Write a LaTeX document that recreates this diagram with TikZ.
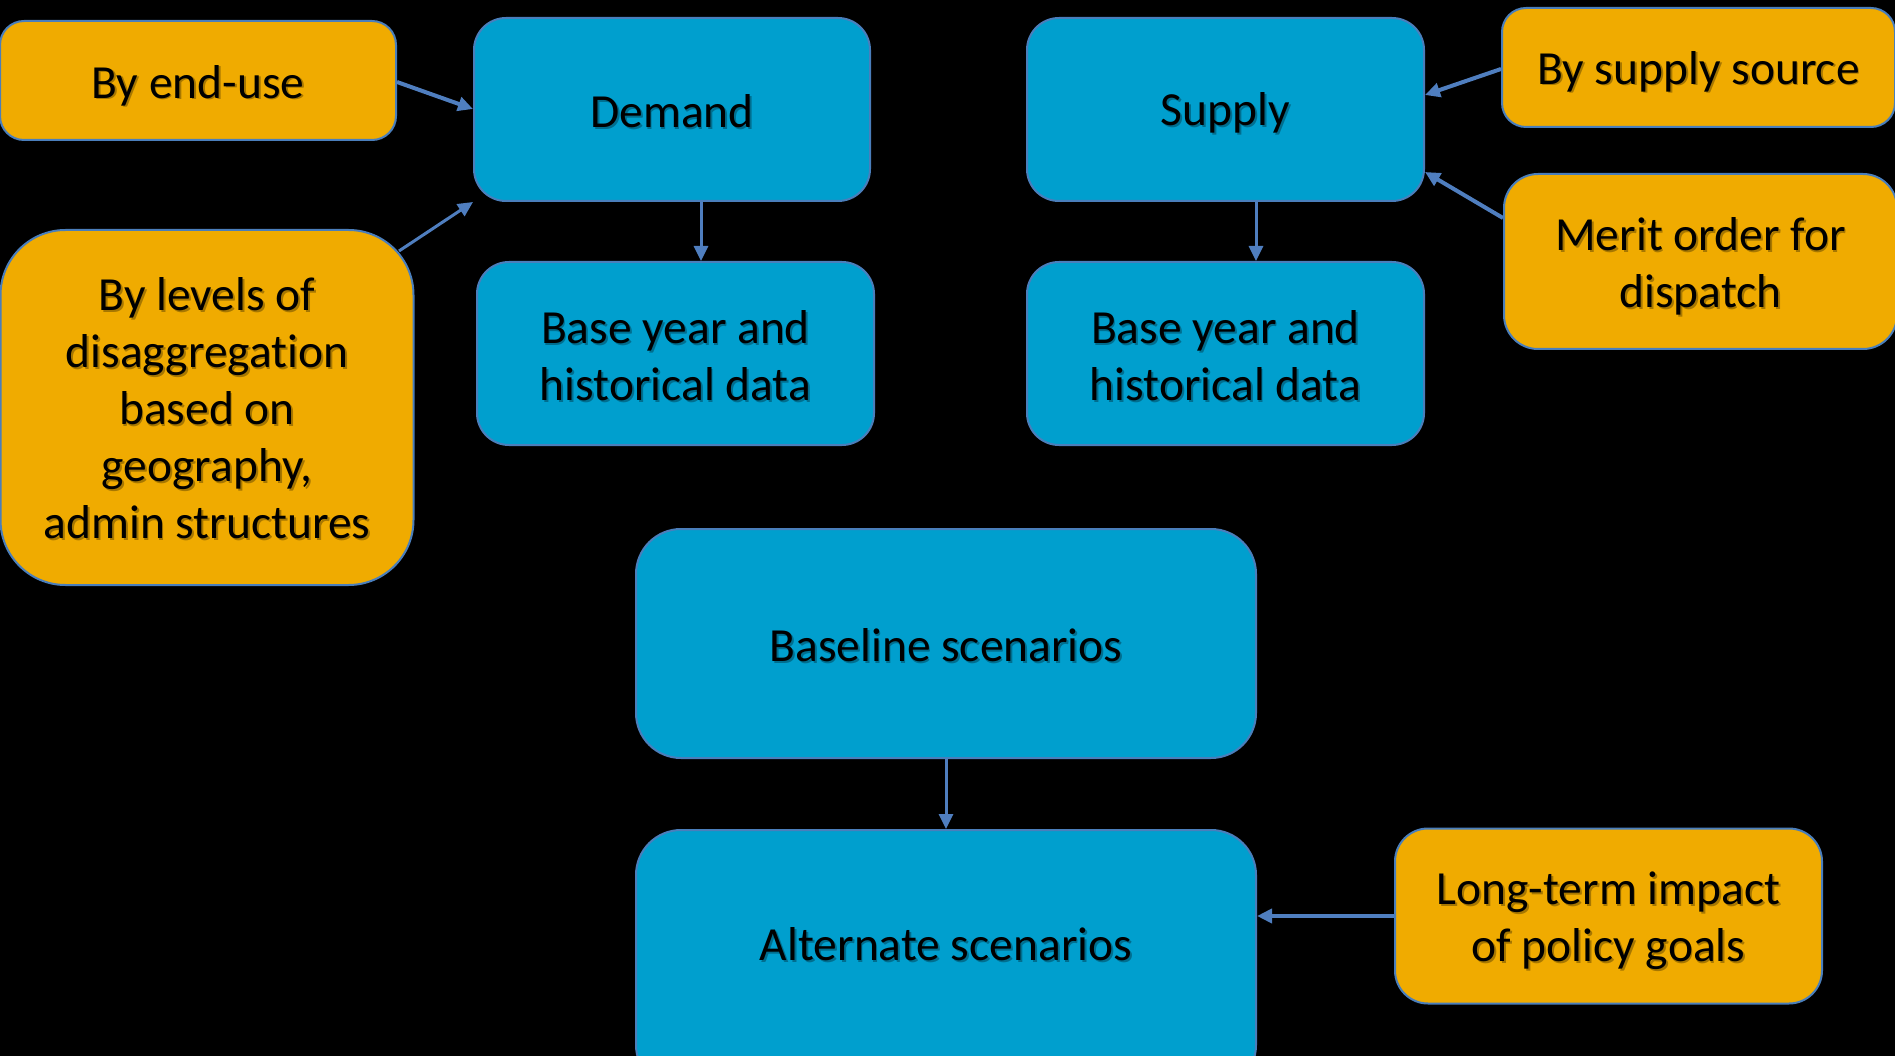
\documentclass[tikz,border=0pt]{standalone}
\usepackage{fontspec}
\setmainfont{Carlito}[Ligatures=NoCommon]
\usetikzlibrary{arrows.meta}
\definecolor{bfill}{HTML}{009FCE}
\definecolor{ofill}{HTML}{F0AB00}
\definecolor{edgec}{HTML}{4A7EBB}
\definecolor{arrc}{HTML}{4F7EBF}
\tikzset{
  box/.style={draw=edgec, line width=2pt, inner sep=0pt},
  bluebox/.style={box, fill=bfill},
  orangebox/.style={box, fill=ofill},
  txt/.style={align=center, inner sep=0pt, font=\fontsize{47.5}{57}\selectfont, text=black},
  txtshadow/.style={txt, text=black, text opacity=0.3},
  conn/.style={draw=arrc, line width=3pt, -{Triangle[length=15pt,width=14pt]}},
}
\newcommand\boxtext[3][0]{%
  \node[txtshadow] at ([xshift=1.8pt,yshift=-#1pt-1.8pt]#2.center) {#3};
  \node[txt] (#2-t) at ([yshift=-#1pt]#2.center) {#3};}
\begin{document}
\begin{tikzpicture}[x=1pt,y=-1pt]
\fill[black] (0,0) rectangle (1895,1056);
\useasboundingbox (0,0) rectangle (1895,1056);
\clip (0,0) rectangle (1895,1056);
% blue boxes
\node[bluebox, rounded corners=32pt, minimum width=396pt, minimum height=183pt] (demand) at (672,109.5) {};
\node[bluebox, rounded corners=32pt, minimum width=397pt, minimum height=183pt] (baseL) at (675.5,353.5) {};
\node[bluebox, rounded corners=32pt, minimum width=397pt, minimum height=183pt] (supply) at (1225.5,109.5) {};
\node[bluebox, rounded corners=32pt, minimum width=397pt, minimum height=183pt] (baseR) at (1225.5,353.5) {};
\node[bluebox, rounded corners=45pt, minimum width=620pt, minimum height=229pt] (baseline) at (946,643.5) {};
\node[bluebox, rounded corners=45pt, minimum width=620pt, minimum height=260pt, anchor=north] (alternate) at (946,829) {};
\coordinate (altc) at (946,944);
% orange boxes
\node[orangebox, rounded corners=24pt, minimum width=396pt, minimum height=119pt] (enduse) at (198,80.5) {};
\node[orangebox, rounded corners=65pt, minimum width=413pt, minimum height=355pt] (levels) at (207,407.5) {};
\node[orangebox, rounded corners=24pt, minimum width=393pt, minimum height=119pt] (source) at (1698.5,67.5) {};
\node[orangebox, rounded corners=34pt, minimum width=393pt, minimum height=175pt] (merit) at (1700.5,261.5) {};
\node[orangebox, rounded corners=33pt, minimum width=427pt, minimum height=175pt] (longterm) at (1608.5,916) {};
% texts
\boxtext[1.5]{demand}{Demand}
\boxtext[2.5]{baseL}{Base year and\\historical data}
\boxtext[3.5]{supply}{Supply}
\boxtext[2.5]{baseR}{Base year and\\historical data}
\boxtext[1.5]{baseline}{Baseline scenarios}
\boxtext[0]{altc}{Alternate scenarios}
\boxtext[5]{enduse}{By end-use}
\boxtext[1]{levels}{By levels of\\disaggregation\\based on\\geography,\\admin structures}
\boxtext[4]{source}{By supply source}
\boxtext[5]{merit}{Merit order for\\dispatch}
\boxtext[5]{longterm}{Long-term impact\\of policy goals}
% connectors
\coordinate (lv) at (399,251);
\draw[conn, line width=4pt] (enduse.east |- 0,82) -- (demand.west |- 0,109);
\draw[conn] (lv) -- (demand.south west);
\draw[conn] (demand.south -| 701,0) -- (baseL.north -| 701,0);
\draw[conn] (supply.south -| 1256,0) -- (baseR.north -| 1256,0);
\draw[conn, line width=4pt] (source.west |- 0,69) -- (supply.east |- 0,95);
\draw[conn, line width=4pt] (merit.west |- 0,218) -- (supply.east |- 0,172);
\draw[conn] (baseline.south) -- (alternate.north);
\draw[conn, line width=4pt] (longterm.west) -- (alternate.east |- longterm.west);
\end{tikzpicture}
\end{document}
